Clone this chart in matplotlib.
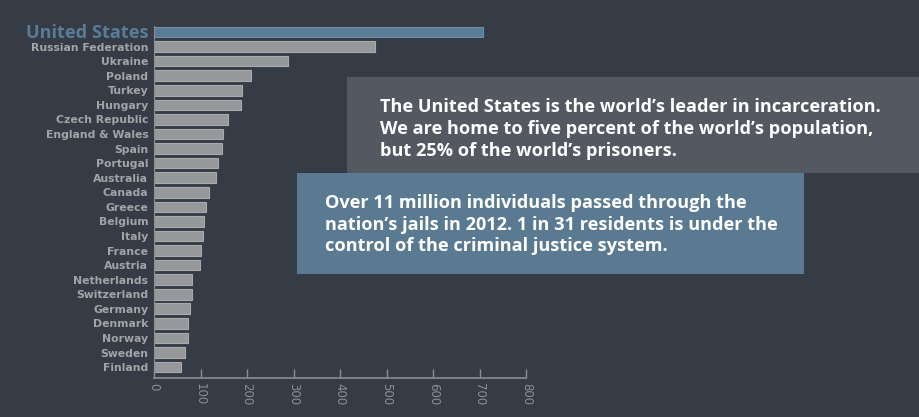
import matplotlib
matplotlib.use("Agg")
import matplotlib.pyplot as plt
from matplotlib.patches import Rectangle
from matplotlib.transforms import offset_copy

countries = ["United States", "Russian Federation", "Ukraine", "Poland", "Turkey",
             "Hungary", "Czech Republic", "England & Wales", "Spain", "Portugal",
             "Australia", "Canada", "Greece", "Belgium", "Italy", "France", "Austria",
             "Netherlands", "Switzerland", "Germany", "Denmark", "Norway", "Sweden",
             "Finland"]
rates = [707, 475, 287, 209, 189, 186, 158, 148, 146, 138, 134, 118, 111, 108,
         106, 100, 98, 82, 82, 77, 74, 72, 67, 59]
xticks = [0, 100, 200, 300, 400, 500, 600, 700, 800]

box1_lines = ["The United States is the world\u2019s leader in incarceration.",
              "We are home to five percent of the world\u2019s population,",
              "but 25% of the world\u2019s prisoners."]
box2_lines = ["Over 11 million individuals passed through the",
              "nation\u2019s jails in 2012. 1 in 31 residents is under the",
              "control of the criminal justice system."]

BG = "#363c46"
BAR = "#97989b"
BAR_EDGE = "#a9aaac"
US = "#5a7d97"
US_EDGE = "#6f8fa6"
LABEL = "#a3a4a7"
AXIS = "#8b8e93"
FONT = ["Open Sans", "DejaVu Sans"]
FONT2 = ["DejaVu Sans"]

W, H = 920, 417
fig = plt.figure(figsize=(W / 100, H / 100), dpi=100, facecolor=BG)

def fx(px):
    return px / W

def fy(py):
    return 1 - py / H

ax = fig.add_axes([fx(154), fy(378.3), fx(526.3) - fx(154), fy(20) - fy(378.3)])
ax.set_facecolor(BG)

ypos = list(range(len(countries)))
colors = [US] + [BAR] * (len(countries) - 1)
edges = [US_EDGE] + [BAR_EDGE] * (len(countries) - 1)
ax.barh(ypos, rates, height=0.73, color=colors, edgecolor=edges, linewidth=0.8)

ax.set_xlim(0, 800)
ax.set_ylim(23.77, -0.824)
ax.set_xticks(xticks)
ax.set_xticklabels([str(t) for t in xticks], rotation=-90, ha="center", va="top",
                   fontsize=8.5, color=AXIS, family=FONT2)
ax.tick_params(axis="x", direction="in", length=6.5, width=1, color=AXIS, pad=3.5)
ax.set_yticks(ypos[1:])
ax.set_yticklabels(countries[1:], color=LABEL, fontsize=7.8, fontweight="bold",
                   family=FONT2)
ax.tick_params(axis="y", length=0, pad=4)

# highlighted first category label, baseline-aligned with its bar
ax.text(0, ypos[0], countries[0], color=US, fontsize=13.1, fontweight="bold",
        family=FONT, ha="right", va="baseline",
        transform=offset_copy(ax.transData, fig=fig, x=-5, y=-5.8, units="dots"))

for s in ["top", "right"]:
    ax.spines[s].set_visible(False)
ax.spines["bottom"].set_color(AXIS)
ax.spines["bottom"].set_linewidth(1.2)
ax.spines["left"].set_color(AXIS)
ax.spines["left"].set_linewidth(0.8)
ax.spines["left"].set_bounds(23.77, -0.4)

# text boxes
fig.patches.append(Rectangle((fx(347), fy(173)), fx(920) - fx(347), fy(77) - fy(173),
                             transform=fig.transFigure, facecolor="#545961",
                             edgecolor="none", zorder=5))
fig.patches.append(Rectangle((fx(297), fy(274)), fx(804) - fx(297), fy(173) - fy(274),
                             transform=fig.transFigure, facecolor="#5a7a92",
                             edgecolor="none", zorder=6))

for i, line in enumerate(box1_lines):
    fig.text(fx(380), fy(112.3 + 21.7 * i), line, color="white", fontsize=13.1,
             fontweight="bold", family=FONT, ha="left", va="baseline", zorder=10)
for i, line in enumerate(box2_lines):
    fig.text(fx(325), fy(208 + 21.5 * i), line, color="white", fontsize=13.1,
             fontweight="bold", family=FONT, ha="left", va="baseline", zorder=10)

fig.savefig("out.png", dpi=100, facecolor=BG)
